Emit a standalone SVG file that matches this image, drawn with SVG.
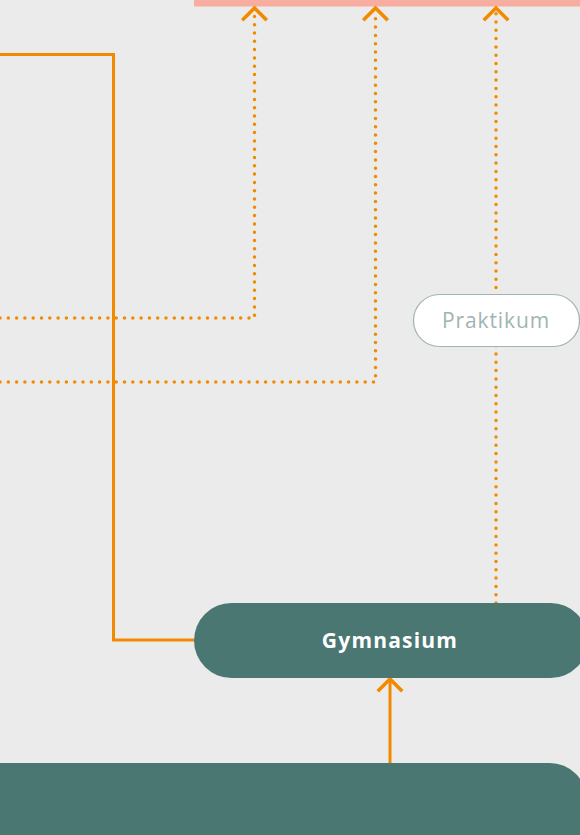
<svg xmlns="http://www.w3.org/2000/svg" width="580" height="835" viewBox="0 0 580 835">
<style>
.solid{fill:none;stroke:#f28a00;stroke-width:3}
.dot{fill:none;stroke:#f28a00;stroke-width:3.5;stroke-linecap:round;stroke-dasharray:0 8.3}
.head{fill:none;stroke:#f28a00;stroke-width:3.6;stroke-linecap:square}
.dark{fill:#4a7771}
.lbl{font-family:"Open Sans","Liberation Sans",sans-serif;font-size:21px;text-anchor:middle}
</style>
<rect width="580" height="835" fill="#ebebeb"/>
<rect id="top-node" x="194" y="-40" width="420" height="46.5" fill="#f7aea0"/>
<g id="connectors">
<polyline class="solid" points="0,54.5 113.5,54.5 113.5,640 194,640"/>
<polyline class="dot" points="0,318 254.5,318 254.5,12"/>
<polyline class="dot" points="0,382 375.5,382 375.5,12"/>
<polyline class="dot" points="496,603 496,12"/>
<path class="head" d="M243.5,19 L254.5,8 L265.5,19"/>
<path class="head" d="M364.5,19 L375.5,8 L386.5,19"/>
<path class="head" d="M485,19 L496,8 L507,19"/>
<line class="solid" x1="390" y1="763" x2="390" y2="681"/>
<path class="head" d="M379,690 L390,679 L401,690"/>
</g>
<g id="praktikum">
<rect x="413.5" y="294.5" width="166" height="52" rx="26" fill="#fff" stroke="#9fb5b0" stroke-width="1.2"/>
<text class="lbl" x="496" y="328" fill="#9fb5b0" letter-spacing="0.9">Praktikum</text>
</g>
<g id="gymnasium">
<rect class="dark" x="194" y="603" width="394" height="75" rx="37.5"/>
<text class="lbl" x="390" y="648" fill="#fff" font-weight="bold" letter-spacing="1.2">Gymnasium</text>
</g>
<g id="bottom-node">
<rect class="dark" x="-60" y="763" width="647" height="150" rx="37.5"/>
</g>
</svg>
